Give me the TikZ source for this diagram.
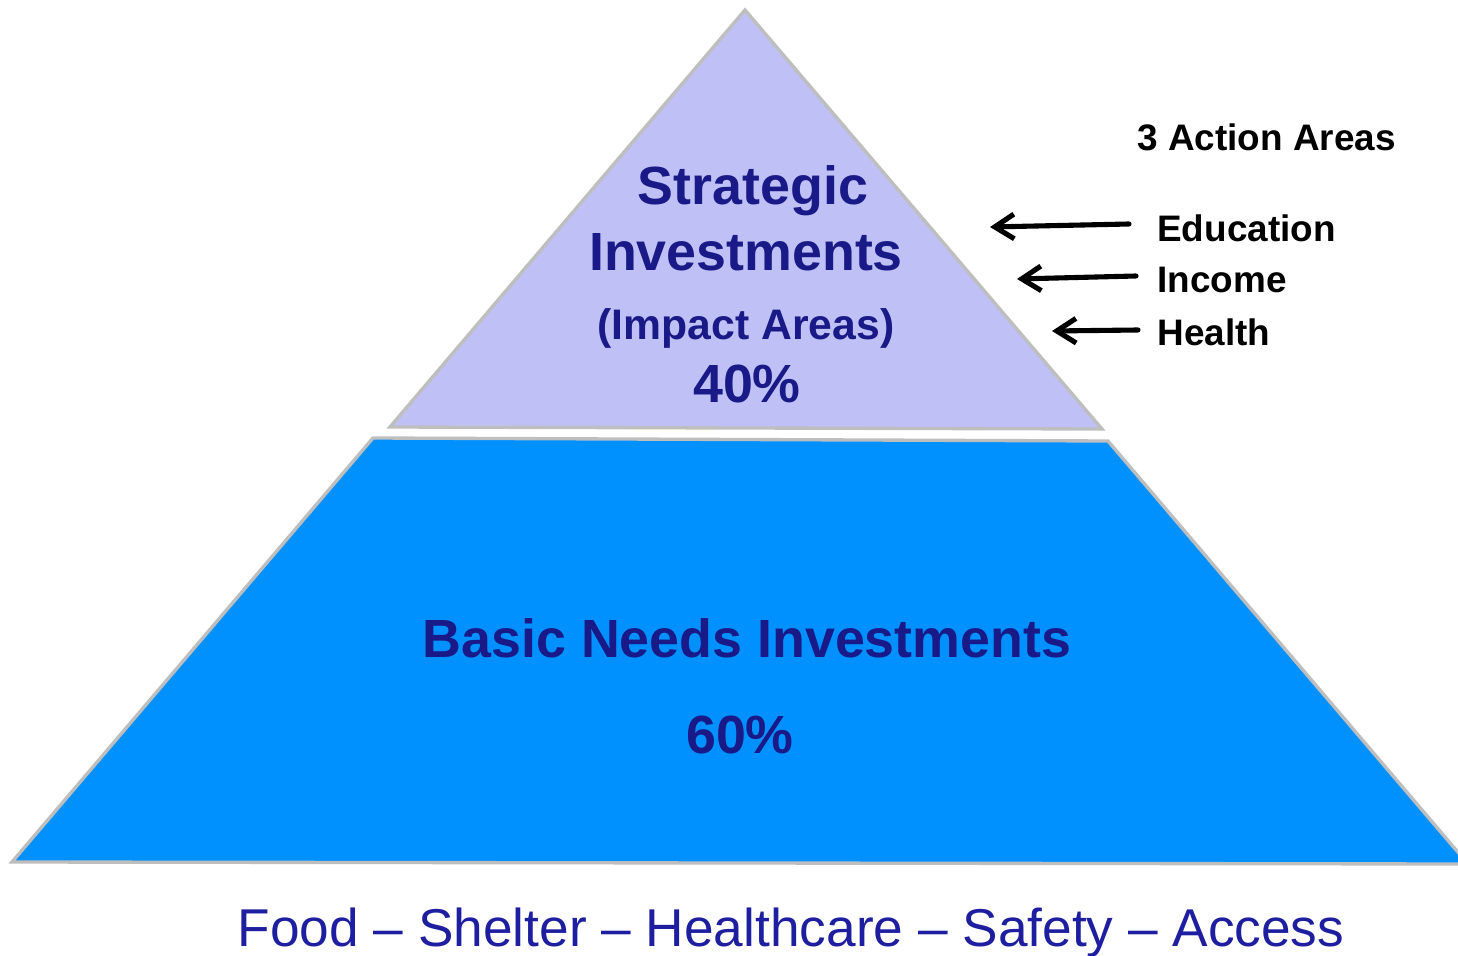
\documentclass[tikz,border=0pt]{standalone}
\usepackage{fontspec}
\setmainfont{Liberation Sans}
\usetikzlibrary{arrows.meta}
\definecolor{lav}{RGB}{190,192,246}
\definecolor{skyb}{RGB}{0,145,255}
\definecolor{edgegray}{RGB}{190,190,190}
\definecolor{navy}{RGB}{25,25,135}
\definecolor{foodblue}{RGB}{30,30,160}
\tikzset{
  tier/.style={draw=edgegray, line width=1.9pt, line join=miter},
  bigtxt/.style={text=navy, font=\fontsize{30.6}{34}\selectfont\bfseries, inner sep=0pt},
  midtxt/.style={text=navy, font=\fontsize{24.3}{28}\selectfont\bfseries, inner sep=0pt},
  sidetxt/.style={text=black, font=\fontsize{21}{24}\selectfont\bfseries, inner sep=0pt, anchor=west},
  pointer/.style={-{Straight Barb[length=11pt,width=14pt,line width=2.9pt]}, line width=2.9pt, line cap=round},
}
\begin{document}
\begin{tikzpicture}[x=0.02cm,y=-0.02cm]
\useasboundingbox (0,0) rectangle (1458,956);
\begin{scope}
\clip (0,0) rectangle (1458,956);
\filldraw[tier, fill=skyb] (373,438) -- (1108,441) -- (1468,864) -- (12,862) -- cycle;
\end{scope}
\filldraw[tier, fill=lav] (745,10) -- (1102,429) -- (390,427) -- cycle;

\node[bigtxt] (s1) at (753,191) {Strategic};
\node[bigtxt] (s2) at (746,252) {Investments};
\node[midtxt] (s3) at (746,328) {(Impact Areas)};
\node[bigtxt] (s4) at (747,384) {40\%};

\node[bigtxt] (b1) at (747,638) {Basic Needs Investments};
\node[bigtxt] (b2) at (740,735) {60\%};

\node[text=foodblue, font=\fontsize{30.3}{34}\selectfont, inner sep=0pt] (food) at (791,933) {Food – Shelter – Healthcare – Safety – Access};

\node[sidetxt] (act) at (1137,137) {3 Action Areas};
\node[sidetxt] (edu) at (1157,228) {Education};
\node[sidetxt] (inc) at (1157,280) {Income};
\node[sidetxt] (hea) at (1157,332) {Health};

\coordinate (eduS) at (1129,224);
\coordinate (incS) at (1136,276);
\coordinate (heaS) at (1138,330);
\coordinate (eduT) at (990,227);
\coordinate (incT) at (1017,279);
\coordinate (heaT) at (1052,331);
\draw[pointer] (eduS) -- (eduT);
\draw[pointer] (incS) -- (incT);
\draw[pointer] (heaS) -- (heaT);
\end{tikzpicture}
\end{document}
